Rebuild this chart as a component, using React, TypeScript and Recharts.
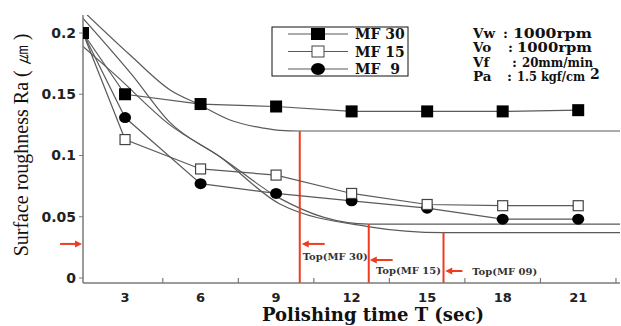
import { Line, LineChart, ReferenceDot, ReferenceLine, XAxis, YAxis } from 'recharts';

// -----------------------------------------------------------------------------
// Data
// -----------------------------------------------------------------------------

const times = [1.33, 3, 6, 9, 12, 15, 18, 21];
const mf30 = [0.2, 0.15, 0.142, 0.14, 0.136, 0.136, 0.136, 0.137];
const mf15 = [0.2, 0.113, 0.089, 0.084, 0.069, 0.06, 0.059, 0.059];
const mf9 = [0.2, 0.131, 0.077, 0.069, 0.063, 0.057, 0.048, 0.048];

// fitted decay curves, flat after the "Top" time
const fit30T = [1.33, 3.2, 4.79, 5.9, 7.17, 8.48, 9.15, 9.94, 22.66];
const fit30V = [0.218, 0.182, 0.1535, 0.142, 0.129, 0.1224, 0.1205, 0.12, 0.12];
const fit15T = [1.33, 2.6, 4.78, 6.77, 9.15, 10.9, 12.68, 22.66];
const fit15V = [0.189, 0.166, 0.125, 0.099, 0.065, 0.0495, 0.044, 0.044];
const fit09T = [1.33, 3.27, 4.78, 6.77, 9.15, 12.64, 15.65, 22.66];
const fit09V = [0.212, 0.166, 0.127, 0.099, 0.0604, 0.042, 0.037, 0.037];

const topTimes = [9.94, 12.68, 15.65];
const topLevels = [0.12, 0.044, 0.037];
const topNames = ['Top(MF 30)', 'Top(MF 15)', 'Top(MF 09)'];
const arrowTails = [10.93, 13.63, 16.4];
const arrowHeads = [10.02, 12.72, 15.72];
const arrowLevels = [0.0278, 0.0147, 0.0057];
const labelTimes = [10.06, 12.97, 16.79];
const labelLevels = [0.018, 0.0065, 0.0057];

const xMajor = [3, 6, 9, 12, 15, 18, 21];
const xMinor = [4.5, 7.5, 10.5, 13.5, 16.5, 19.5, 22.5];
const yTicks = [0, 0.05, 0.1, 0.15, 0.2];

const legendNames = ['MF 30', 'MF 15', 'MF  9'];
const paramNames = ['Vw', 'Vo', 'Vf', 'Pa'];
const paramValues = ['1000rpm', '1000rpm', '20mm/min', '1.5 kgf/cm'];

// -----------------------------------------------------------------------------
// Helpers
// -----------------------------------------------------------------------------

const RED = '#f03c1e';
const LINE = '#5a5a5a';
const AXIS = '#7a7a7a';
const serif = 'DejaVu Serif';

// where the condition block sits (colon x, value x, value width)
const colonX = [503, 508, 512, 507];
const valueX = [513, 517, 522, 517];
const valueW = [79, 75, 71, 68];

const pts = (ts: number[], vs: number[]) => ts.map((t, i) => ({ t, v: vs[i] }));

// eslint-disable-next-line @typescript-eslint/no-explicit-any
const FilledSquare = (props: any) => {
  const { cx, cy, index } = props;
  return <rect key={`fs${index}`} x={cx - 6} y={cy - 6} width={12} height={12} fill="#000" />;
};
// eslint-disable-next-line @typescript-eslint/no-explicit-any
const OpenSquare = (props: any) => {
  const { cx, cy, index } = props;
  return (
    <rect key={`os${index}`} x={cx - 5} y={cy - 5} width={10} height={10} fill="#fff" stroke="#444" strokeWidth={1.2} />
  );
};
// eslint-disable-next-line @typescript-eslint/no-explicit-any
const FilledCircle = (props: any) => {
  const { cx, cy, index } = props;
  return <ellipse key={`fc${index}`} cx={cx} cy={cy} rx={6} ry={5.5} fill="#000" />;
};

// eslint-disable-next-line @typescript-eslint/no-explicit-any
const Arrow = (props: any) => {
  const { x1, y1, x2, y2 } = props;
  const d = Math.sign(x2 - x1);
  return (
    <g>
      <line x1={x1} y1={y1} x2={x2 - d * 5} y2={y2} stroke={RED} strokeWidth={2} />
      <polygon points={`${x2},${y2} ${x2 - d * 7},${y2 - 3.5} ${x2 - d * 7},${y2 + 3.5}`} fill={RED} />
    </g>
  );
};

// eslint-disable-next-line @typescript-eslint/no-explicit-any
const XTick = (props: any) => {
  const { x, y, payload } = props;
  if (xMajor.includes(payload.value)) {
    return (
      <text x={x} y={y + 19} textAnchor="middle" fontFamily="DejaVu Sans" fontWeight={700} fontSize={13} fill="#222">
        {payload.value}
      </text>
    );
  }
  return <line x1={x} y1={y} x2={x} y2={y - 5} stroke={AXIS} strokeWidth={1.2} />;
};

// -----------------------------------------------------------------------------
// Component
// -----------------------------------------------------------------------------

export default function App() {
  return (
    <div style={{ position: 'absolute', left: 0, top: 0, width: 621, height: 326, background: '#fff' }}>
      <LineChart width={621} height={326} margin={{ top: 15, right: 1, bottom: 0, left: 0 }}>
        <XAxis
          dataKey="t"
          type="number"
          domain={[1.33, 22.66]}
          allowDataOverflow
          ticks={[...xMajor, ...xMinor].sort((a, b) => a - b)}
          interval={0}
          height={43}
          tickSize={0}
          tickMargin={0}
          tickLine={false}
          tick={XTick}
          axisLine={{ stroke: AXIS, strokeWidth: 1.5 }}
        />
        <YAxis
          dataKey="v"
          type="number"
          width={83}
          domain={[-0.0041, 0.2147]}
          allowDataOverflow
          ticks={yTicks}
          interval={0}
          tickFormatter={(v) => String(v)}
          tickSize={4}
          tickMargin={3}
          tickLine={{ stroke: AXIS }}
          axisLine={{ stroke: AXIS, strokeWidth: 1.5 }}
          tick={{ fontFamily: 'DejaVu Sans', fontWeight: 700, fontSize: 14, fill: '#222' }}
        />

        {/* fitted curves */}
        <Line data={pts(fit30T, fit30V)} dataKey="v" type="monotone" stroke={LINE} strokeWidth={1.2} dot={false} isAnimationActive={false} />
        <Line data={pts(fit15T, fit15V)} dataKey="v" type="monotone" stroke={LINE} strokeWidth={1.2} dot={false} isAnimationActive={false} />
        <Line data={pts(fit09T, fit09V)} dataKey="v" type="monotone" stroke={LINE} strokeWidth={1.2} dot={false} isAnimationActive={false} />

        {/* Top markers */}
        {topTimes.map((t, i) => (
          <ReferenceLine
            key={`top${i}`}
            segment={[{ x: t, y: topLevels[i] }, { x: t, y: -0.0041 }]}
            stroke={RED}
            strokeWidth={2}
          />
        ))}
        {arrowTails.map((t, i) => (
          <ReferenceLine
            key={`arr${i}`}
            segment={[{ x: t, y: arrowLevels[i] }, { x: arrowHeads[i], y: arrowLevels[i] }]}
            shape={Arrow}
          />
        ))}
        <ReferenceLine
          segment={[{ x: 0.42, y: 0.0278 }, { x: 1.29, y: 0.0278 }]}
          ifOverflow="visible"
          shape={Arrow}
        />
        {labelTimes.map((t, i) => (
          <ReferenceDot
            key={`lbl${i}`}
            x={t}
            y={labelLevels[i]}
            // eslint-disable-next-line @typescript-eslint/no-explicit-any
            shape={(p: any) => (
              <text x={p.cx} y={p.cy + 4} fontFamily={serif} fontWeight={700} fontSize={10} fill="#333">
                {topNames[i]}
              </text>
            )}
          />
        ))}

        {/* measured series */}
        <Line data={pts(times, mf9)} dataKey="v" stroke={LINE} strokeWidth={1.2} dot={FilledCircle} isAnimationActive={false} />
        <Line data={pts(times, mf15)} dataKey="v" stroke={LINE} strokeWidth={1.2} dot={OpenSquare} isAnimationActive={false} />
        <Line data={pts(times, mf30)} dataKey="v" stroke={LINE} strokeWidth={1.2} dot={FilledSquare} isAnimationActive={false} />
      </LineChart>

      <svg width={621} height={326} style={{ position: 'absolute', left: 0, top: 0, pointerEvents: 'none' }}>
        {/* axis titles */}
        <text
          transform="translate(28,145) rotate(-90)"
          textAnchor="middle"
          fontFamily="Liberation Serif"
          fontSize={20}
          fill="#111"
        >
          Surface roughness Ra ( ㎛ )
        </text>
        <text x={373} y={321} textAnchor="middle" fontFamily={serif} fontWeight={700} fontSize={18} fill="#111">
          Polishing time T (sec)
        </text>

        {/* legend */}
        <rect x={272} y={27} width={136} height={49} fill="#fff" stroke="#111" strokeWidth={1} />
        {legendNames.map((name, i) => {
          const cy = 34 + i * 17.5;
          return (
            <g key={name}>
              <line x1={288} y1={cy} x2={348} y2={cy} stroke={LINE} strokeWidth={1.2} />
              {i === 0 && <rect x={311} y={cy - 6} width={14} height={12} fill="#000" />}
              {i === 1 && <rect x={312} y={cy - 5.5} width={12} height={11} fill="#fff" stroke="#444" />}
              {i === 2 && <ellipse cx={318} cy={cy} rx={7} ry={6} fill="#000" />}
              <text x={355} y={cy + 5} fontFamily={serif} fontWeight={700} fontSize={14} fill="#111" style={{ whiteSpace: 'pre' }}>
                {name}
              </text>
            </g>
          );
        })}

        {/* test conditions */}
        {paramNames.map((name, i) => (
          <g key={name}>
            <text x={473} y={38 + i * 14.3} fontFamily={serif} fontWeight={700} fontSize={13.5} fill="#111">
              {name}
            </text>
            <text x={colonX[i]} y={38 + i * 14.3} fontFamily={serif} fontWeight={700} fontSize={13.5} fill="#111">
              :
            </text>
            <text
              x={valueX[i]}
              y={38 + i * 14.3}
              fontFamily={serif}
              fontWeight={700}
              fontSize={13.5}
              fill="#111"
              textLength={valueW[i]}
              lengthAdjust="spacingAndGlyphs"
            >
              {paramValues[i]}
            </text>
          </g>
        ))}
        <text x={590} y={79} fontFamily={serif} fontWeight={700} fontSize={14} fill="#111">
          2
        </text>
      </svg>
    </div>
  );
}
